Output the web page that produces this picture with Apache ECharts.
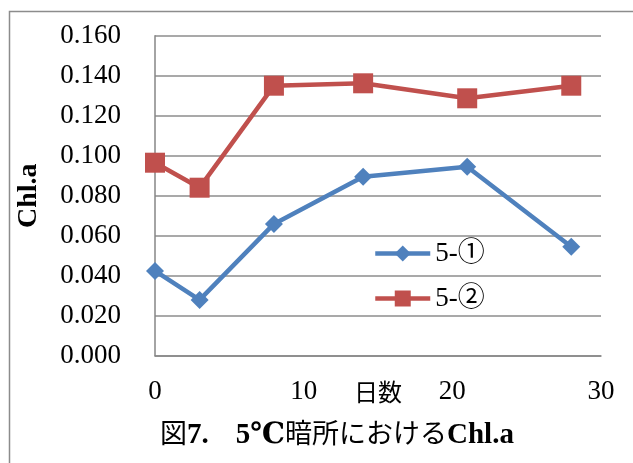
<!DOCTYPE html>
<html>
<head>
<meta charset="utf-8">
<script src="https://cdn.jsdelivr.net/npm/echarts@6/dist/echarts.min.js"></script>
<style>
html,body{margin:0;padding:0;background:#fff;}
#main{width:633px;height:463px;}
</style>
</head>
<body>
<div id="main"></div>
<script>
// Data
const days = [0, 3, 8, 14, 21, 28];
const series1Name = '5-①';
const series1Values = [0.0424, 0.0279, 0.0659, 0.0895, 0.0945, 0.0545];
const series2Name = '5-②';
const series2Values = [0.0965, 0.084, 0.135, 0.1362, 0.1287, 0.135];
const yTicks = { min: 0, max: 0.16, interval: 0.02 };
const xTicks = { min: 0, max: 30, interval: 10 };
const titleParts = ['図', '7.', '　', '5℃', '暗所における', 'Chl.a'];
const xName = '日数';
const yName = 'Chl.a';

const serif = '"Liberation Serif", "DejaVu Serif", "Noto Sans CJK JP", serif';
const chart = echarts.init(document.getElementById('main'), null, {renderer: 'canvas'});
const pairs = (xs, ys) => xs.map((x, i) => [x, ys[i]]);

const titleRich = {
  r: {fontFamily: serif, fontSize: 27, fontWeight: 'normal', color: '#000'},
  b: {fontFamily: serif, fontSize: 29, fontWeight: 'bold', color: '#000'}
};
const titleStyles = ['r', 'b', 'r', 'b', 'r', 'b'];
const titleText = titleParts.map((p, i) => '{' + titleStyles[i] + '|' + p + '}').join('');

chart.setOption({
  animation: false,
  backgroundColor: '#ffffff',
  graphic: [{
    type: 'rect', left: 7, top: 9, shape: {width: 700, height: 500},
    style: {fill: 'none', stroke: '#8c8c8c', lineWidth: 1.5}, silent: true, z: -1
  }],
  title: {
    text: titleText,
    left: 155, top: 416,
    textStyle: {rich: titleRich}
  },
  grid: {left: 155, right: 32, top: 35.7, bottom: 107.3, containLabel: false},
  legend: {
    left: 368, top: 235, orient: 'vertical', itemGap: 18,
    itemWidth: 55, itemHeight: 20,
    lineStyle: {width: 'inherit'},
    textStyle: {fontFamily: serif, fontSize: 27, color: '#000'},
    data: [series1Name, series2Name]
  },
  xAxis: {
    type: 'value', min: xTicks.min, max: xTicks.max, interval: xTicks.interval,
    name: xName, nameLocation: 'middle', nameGap: 24, nameMoveOverlap: false,
    nameTextStyle: {fontFamily: '"Noto Sans CJK JP", sans-serif', fontSize: 24, color: '#000'},
    axisLine: {show: true, lineStyle: {color: '#868686', width: 1.5}},
    axisTick: {show: false},
    splitLine: {show: false},
    axisLabel: {margin: 23, fontFamily: serif, fontSize: 27, color: '#000'}
  },
  yAxis: {
    type: 'value', min: yTicks.min, max: yTicks.max, interval: yTicks.interval,
    name: yName, nameLocation: 'middle', nameGap: 112, nameRotate: 90, nameMoveOverlap: false,
    nameTextStyle: {fontFamily: serif, fontSize: 28, fontWeight: 'bold', color: '#000'},
    axisLine: {show: true, lineStyle: {color: '#868686', width: 1.5}},
    axisTick: {show: false},
    splitLine: {show: true, lineStyle: {color: '#8c8c8c', width: 1.5}},
    axisLabel: {margin: 34, fontFamily: serif, fontSize: 27, color: '#000',
      formatter: v => v.toFixed(3)}
  },
  series: [
    {
      name: series1Name, type: 'line', data: pairs(days, series1Values),
      symbol: 'diamond', symbolSize: 18,
      itemStyle: {color: '#4F81BD'},
      lineStyle: {color: '#4F81BD', width: 4.5}
    },
    {
      name: series2Name, type: 'line', data: pairs(days, series2Values),
      symbol: 'rect', symbolSize: 20,
      itemStyle: {color: '#C0504D'},
      lineStyle: {color: '#C0504D', width: 4.5}
    }
  ]
});
</script>
</body>
</html>
